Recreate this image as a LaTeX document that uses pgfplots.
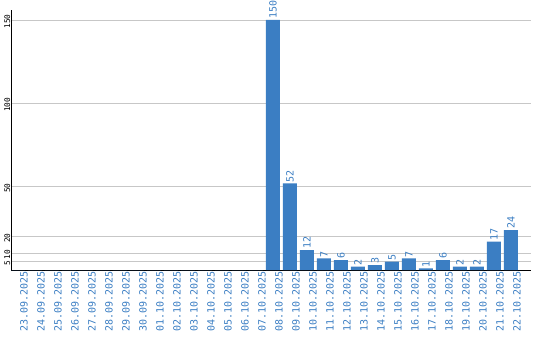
\documentclass[border=0pt]{standalone}
\usepackage{fontspec}
\usepackage{pgfplots}
\pgfplotsset{compat=1.18}
\usepackage{pgfplotstable}
\newfontfamily\mono{DejaVu Sans Mono}
\definecolor{barblue}{RGB}{59,126,195}
\pgfplotstableread{
x y
0 0
1 0
2 0
3 0
4 0
5 0
6 0
7 0
8 0
9 0
10 0
11 0
12 0
13 0
14 0
}\zerodata
\pgfplotstableread{
x y
15 150
16 52
17 12
18 7
19 6
20 2
21 3
22 5
23 7
24 1
25 6
26 2
27 2
28 17
29 24
}\mydata
\begin{document}
\begin{tikzpicture}
\begin{axis}[
  name=ax,
  /pgf/number format/assume math mode=true,
  scale only axis, width=520bp, height=260bp,
  xmin=-0.41, xmax=30.18, ymin=0, ymax=156,
  axis x line*=bottom, axis y line*=left,
  axis line style={-, black, line width=1bp},
  ytick={5,10,20,50,100,150},
  ymajorgrids, grid style={black!22, line width=0.9bp},
  major tick length=0pt,
  yticklabel style={rotate=90, anchor=south, font=\mono\fontsize{7.8bp}{9bp}\selectfont, inner sep=0.5bp, xshift=-1.5bp},
  xtick={0,...,29},
  xticklabels={23.09.2025,24.09.2025,25.09.2025,26.09.2025,27.09.2025,28.09.2025,29.09.2025,30.09.2025,01.10.2025,02.10.2025,03.10.2025,04.10.2025,05.10.2025,06.10.2025,07.10.2025,08.10.2025,09.10.2025,10.10.2025,11.10.2025,12.10.2025,13.10.2025,14.10.2025,15.10.2025,16.10.2025,17.10.2025,18.10.2025,19.10.2025,20.10.2025,21.10.2025,22.10.2025},
  xticklabel style={rotate=90, anchor=east, font=\mono\fontsize{10bp}{12bp}\selectfont, text=barblue, inner sep=1bp, yshift=-6bp},
  ybar, bar width=14bp,
]
\addplot[draw=none, fill=barblue, bar shift=0pt] table[x=x,y=y] {\zerodata};
\addplot[draw=none, fill=barblue, bar shift=0pt,
  nodes near coords,
  nodes near coords style={rotate=90, anchor=west, font=\mono\fontsize{10bp}{12bp}\selectfont, text=barblue, inner sep=1bp}]
  table[x=x,y=y] {\mydata};
\end{axis}
\pgfresetboundingbox
\path (ax.south west) ++(-11bp,-70bp) rectangle ++(540bp,340bp);
\end{tikzpicture}
\end{document}
